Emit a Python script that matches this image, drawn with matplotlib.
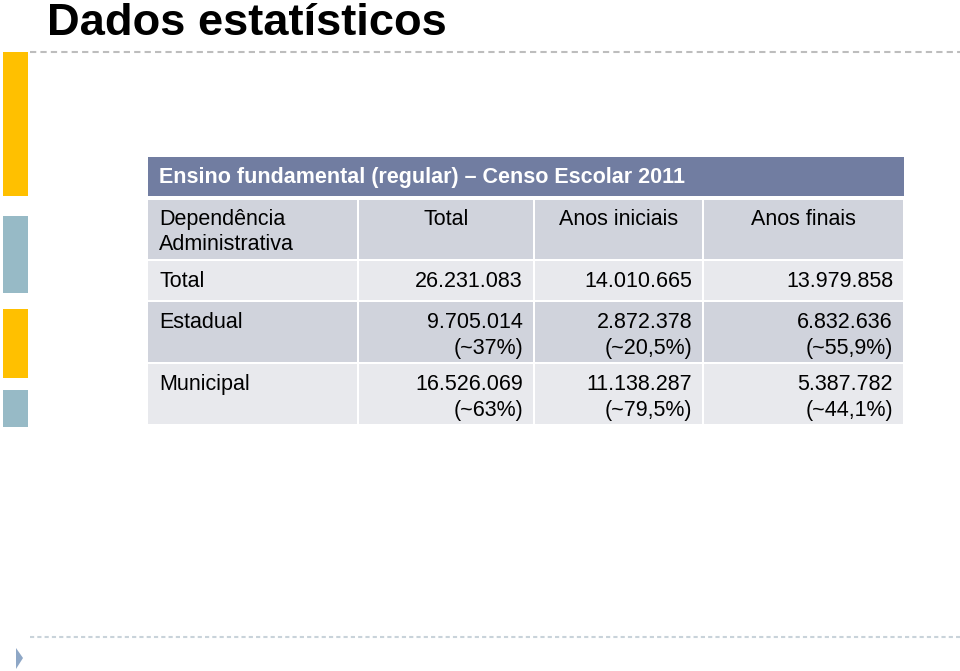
#!/usr/bin/env python3

import matplotlib.pyplot as plt
from matplotlib.patches import Polygon, Rectangle

plt.rcParams["font.family"] = ["Liberation Sans", "DejaVu Sans"]

TITLE = "Dados estatísticos"
TABLE_TITLE = "Ensino fundamental (regular) \u2013 Censo Escolar 2011"
HEADER_FIRST = ["Dependência", "Administrativa"]
COLUMNS = ["Total", "Anos iniciais", "Anos finais"]
ROWS = ["Total", "Estadual", "Municipal"]
COUNTS = [
    ["26.231.083", "14.010.665", "13.979.858"],
    ["9.705.014", "2.872.378", "6.832.636"],
    ["16.526.069", "11.138.287", "5.387.782"],
]
SHARES = [
    [None, None, None],
    ["(~37%)", "(~20,5%)", "(~55,9%)"],
    ["(~63%)", "(~79,5%)", "(~44,1%)"],
]

W, H = 960, 671
COL_EDGES = [148, 358, 534, 703, 904]
ROW_EDGES = [(200, 259), (261, 300), (302, 362), (364, 424)]
DARK = "#D0D3DC"
LIGHT = "#E8E9ED"
HEAD = "#717DA1"
FS = 15.5
PAD = 11


def main():
    fig = plt.figure(figsize=(W / 100, H / 100), dpi=100)
    ax = fig.add_axes([0, 0, 1, 1])
    ax.set_xlim(0, W)
    ax.set_ylim(H, 0)
    ax.axis("off")

    # slide decoration
    ax.text(47, 35, TITLE, fontsize=32.6, fontweight="bold", va="baseline")
    ax.plot([30, W], [52, 52], color="#BDBDBD", lw=1.5, ls=(0, (3, 2)))
    ax.plot([30, W], [637, 637], color="#C9D3DA", lw=1.5, ls=(0, (2, 1.5)))
    for y0, y1, c in [(52, 196, "#FFC000"), (216, 293, "#97BAC6"),
                      (309, 378, "#FFC000"), (390, 427, "#97BAC6")]:
        ax.add_patch(Rectangle((3, y0), 25, y1 - y0, color=c, lw=0))
    ax.add_patch(Polygon([[16, 648], [23, 658], [16, 669]], color="#8EA7C6", lw=0))

    # table title band
    ax.add_patch(Rectangle((COL_EDGES[0], 157), COL_EDGES[-1] - COL_EDGES[0], 39,
                           color=HEAD, lw=0))
    ax.text(COL_EDGES[0] + 11, 183, TABLE_TITLE, color="white", fontsize=FS,
            fontweight="bold", va="baseline")

    # cell backgrounds
    for r, (y0, y1) in enumerate(ROW_EDGES):
        fill = DARK if r % 2 == 0 else LIGHT
        for c in range(len(COL_EDGES) - 1):
            x0 = COL_EDGES[c] + (0 if c == 0 else 1)
            x1 = COL_EDGES[c + 1] - 1
            ax.add_patch(Rectangle((x0, y0), x1 - x0, y1 - y0, color=fill, lw=0))

    # header row
    ax.text(COL_EDGES[0] + PAD, 225, HEADER_FIRST[0], fontsize=FS, va="baseline")
    ax.text(COL_EDGES[0] + PAD, 250, HEADER_FIRST[1], fontsize=FS, va="baseline")
    for c, name in enumerate(COLUMNS):
        xc = (COL_EDGES[c + 1] + COL_EDGES[c + 2]) / 2
        ax.text(xc, 225, name, fontsize=FS, ha="center", va="baseline")

    # body rows
    for r, name in enumerate(ROWS):
        y0 = ROW_EDGES[r + 1][0]
        base = y0 + 26
        ax.text(COL_EDGES[0] + PAD, base, name, fontsize=FS, va="baseline")
        for c in range(len(COLUMNS)):
            xr = COL_EDGES[c + 2] - PAD
            ax.text(xr, base, COUNTS[r][c], fontsize=FS, ha="right", va="baseline")
            if SHARES[r][c]:
                ax.text(xr, base + 26, SHARES[r][c], fontsize=FS, ha="right",
                        va="baseline")

    fig.savefig("out.png", dpi=100, facecolor="white")


if __name__ == "__main__":
    main()
